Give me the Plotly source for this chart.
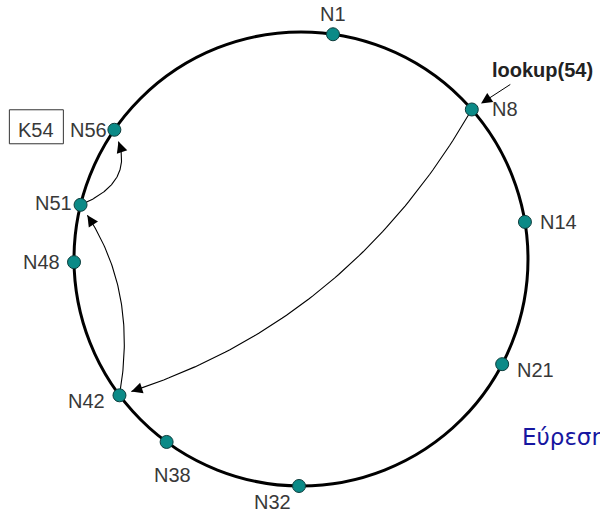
import math
import plotly.graph_objects as go

# ---------------- data ----------------
node_ids = [1, 8, 14, 21, 32, 38, 42, 48, 51, 56]
node_angle_deg = [8.1, 48.8, 80.6, 117.6, 180.5, 216.3, 233.1, 269.2, 283.8, 304.7]  # clockwise from top
lookup_key = 54
key_label = "K54"
lookup_hops_from = [8, 42, 51]
lookup_hops_to = [42, 51, 56]
hop_bend = [0.192, -0.198, -0.472]
caption = "Εύρεση"

# ---------------- layout constants ----------------
W, H = 600, 512
CX, CY, R = 301.0, 259.0, 227.0
FONT = "Arial, Liberation Sans, sans-serif"
LABEL_COLOR = "#383838"
NODE_FILL = "#0b8a87"
NODE_LINE = "#0d3d3c"

label_offset = {
    1: (0, -20), 8: (33, 0), 14: (34, 0), 21: (33, 6), 32: (-27, 16),
    38: (6, 33), 42: (-33, 6), 48: (-33, 0), 51: (-27, -2), 56: (-26, 0),
}


def node_xy(angle):
    a = math.radians(angle)
    return CX + R * math.sin(a), CY - R * math.cos(a)


pos = {nid: node_xy(a) for nid, a in zip(node_ids, node_angle_deg)}

fig = go.Figure()

# ring
fig.add_shape(type="circle", xref="x", yref="y",
              x0=CX - R, x1=CX + R, y0=CY - R, y1=CY + R,
              line=dict(color="black", width=3), layer="below")

annotations = []

# lookup hops as curved arrows (quadratic Bezier)
for src, dst, bend in zip(lookup_hops_from, lookup_hops_to, hop_bend):
    x0, y0 = pos[src]
    x2, y2 = pos[dst]
    mx, my = (x0 + x2) / 2, (y0 + y2) / 2
    dx, dy = x2 - x0, y2 - y0
    L = math.hypot(dx, dy)
    nx, ny = dy / L, -dx / L
    cx, cy = mx + bend * L * nx, my + bend * L * ny
    tx, ty = x2 - cx, y2 - cy
    tl = math.hypot(tx, ty)
    ux, uy = tx / tl, ty / tl
    ex, ey = x2 - 12.5 * ux, y2 - 12.5 * uy
    xs, ys = [], []
    n = 80
    for i in range(n + 1):
        t = i / n
        xs.append((1 - t) ** 2 * x0 + 2 * (1 - t) * t * cx + t ** 2 * ex)
        ys.append((1 - t) ** 2 * y0 + 2 * (1 - t) * t * cy + t ** 2 * ey)
    fig.add_trace(go.Scatter(x=xs, y=ys, mode="lines",
                             line=dict(color="black", width=1.1),
                             hoverinfo="skip", showlegend=False))
    # arrowhead
    hx, hy = ex - cx, ey - cy
    hl = math.hypot(hx, hy)
    annotations.append(dict(x=ex, y=ey, ax=ex - 6 * hx / hl, ay=ey - 6 * hy / hl,
                            xref="x", yref="y", axref="x", ayref="y",
                            text="", showarrow=True, arrowhead=2, arrowsize=2.2,
                            arrowwidth=1, arrowcolor="black", standoff=0))

# nodes
fig.add_trace(go.Scatter(
    x=[pos[n][0] for n in node_ids], y=[pos[n][1] for n in node_ids],
    mode="markers",
    marker=dict(size=13, color=NODE_FILL, line=dict(color=NODE_LINE, width=1)),
    hoverinfo="skip", showlegend=False))

# node labels
for nid in node_ids:
    ox, oy = label_offset[nid]
    annotations.append(dict(x=pos[nid][0] + ox, y=pos[nid][1] + oy,
                            xref="x", yref="y", text=f"N{nid}", showarrow=False,
                            xanchor="center", yanchor="middle",
                            font=dict(family=FONT, size=20, color=LABEL_COLOR)))

# lookup(54) query arrow into the first node
first = lookup_hops_from[0]
annotations.append(dict(x=pos[first][0], y=pos[first][1], ax=40, ay=-26,
                        xref="x", yref="y", text="", showarrow=True,
                        arrowhead=2, arrowsize=2.2, arrowwidth=1,
                        arrowcolor="black", standoff=11))
annotations.append(dict(x=pos[first][0] + 18, y=pos[first][1] - 39, xref="x", yref="y",
                        text=f"<b>lookup({lookup_key})</b>", showarrow=False,
                        xanchor="left", yanchor="middle",
                        font=dict(family=FONT, size=20, color="#222222")))

# key box next to the responsible node
owner = lookup_hops_to[-1]
kx, ky = pos[owner][0] - 79, pos[owner][1]
fig.add_shape(type="rect", xref="x", yref="y", x0=kx - 26, x1=kx + 28,
              y0=ky - 20, y1=ky + 14, line=dict(color="#333333", width=1))
annotations.append(dict(x=kx + 1, y=ky, xref="x", yref="y", text=key_label,
                        showarrow=False, xanchor="center", yanchor="middle",
                        font=dict(family=FONT, size=20, color=LABEL_COLOR)))

# caption (cut at the right edge, as in the original slide)
annotations.append(dict(x=520, y=437, xref="x", yref="y", text=caption,
                        showarrow=False, xanchor="left", yanchor="middle",
                        font=dict(family="DejaVu Sans, sans-serif", size=23,
                                  color="#1616a0")))

fig.update_layout(
    width=W, height=H, margin=dict(l=0, r=0, t=0, b=0),
    paper_bgcolor="white", plot_bgcolor="white",
    xaxis=dict(range=[0, W], visible=False, fixedrange=True),
    yaxis=dict(range=[H, 0], visible=False, fixedrange=True),
    annotations=annotations, showlegend=False,
)

fig.write_html("out.html", config={"displayModeBar": False},
               post_script="document.body.style.margin='0';")
